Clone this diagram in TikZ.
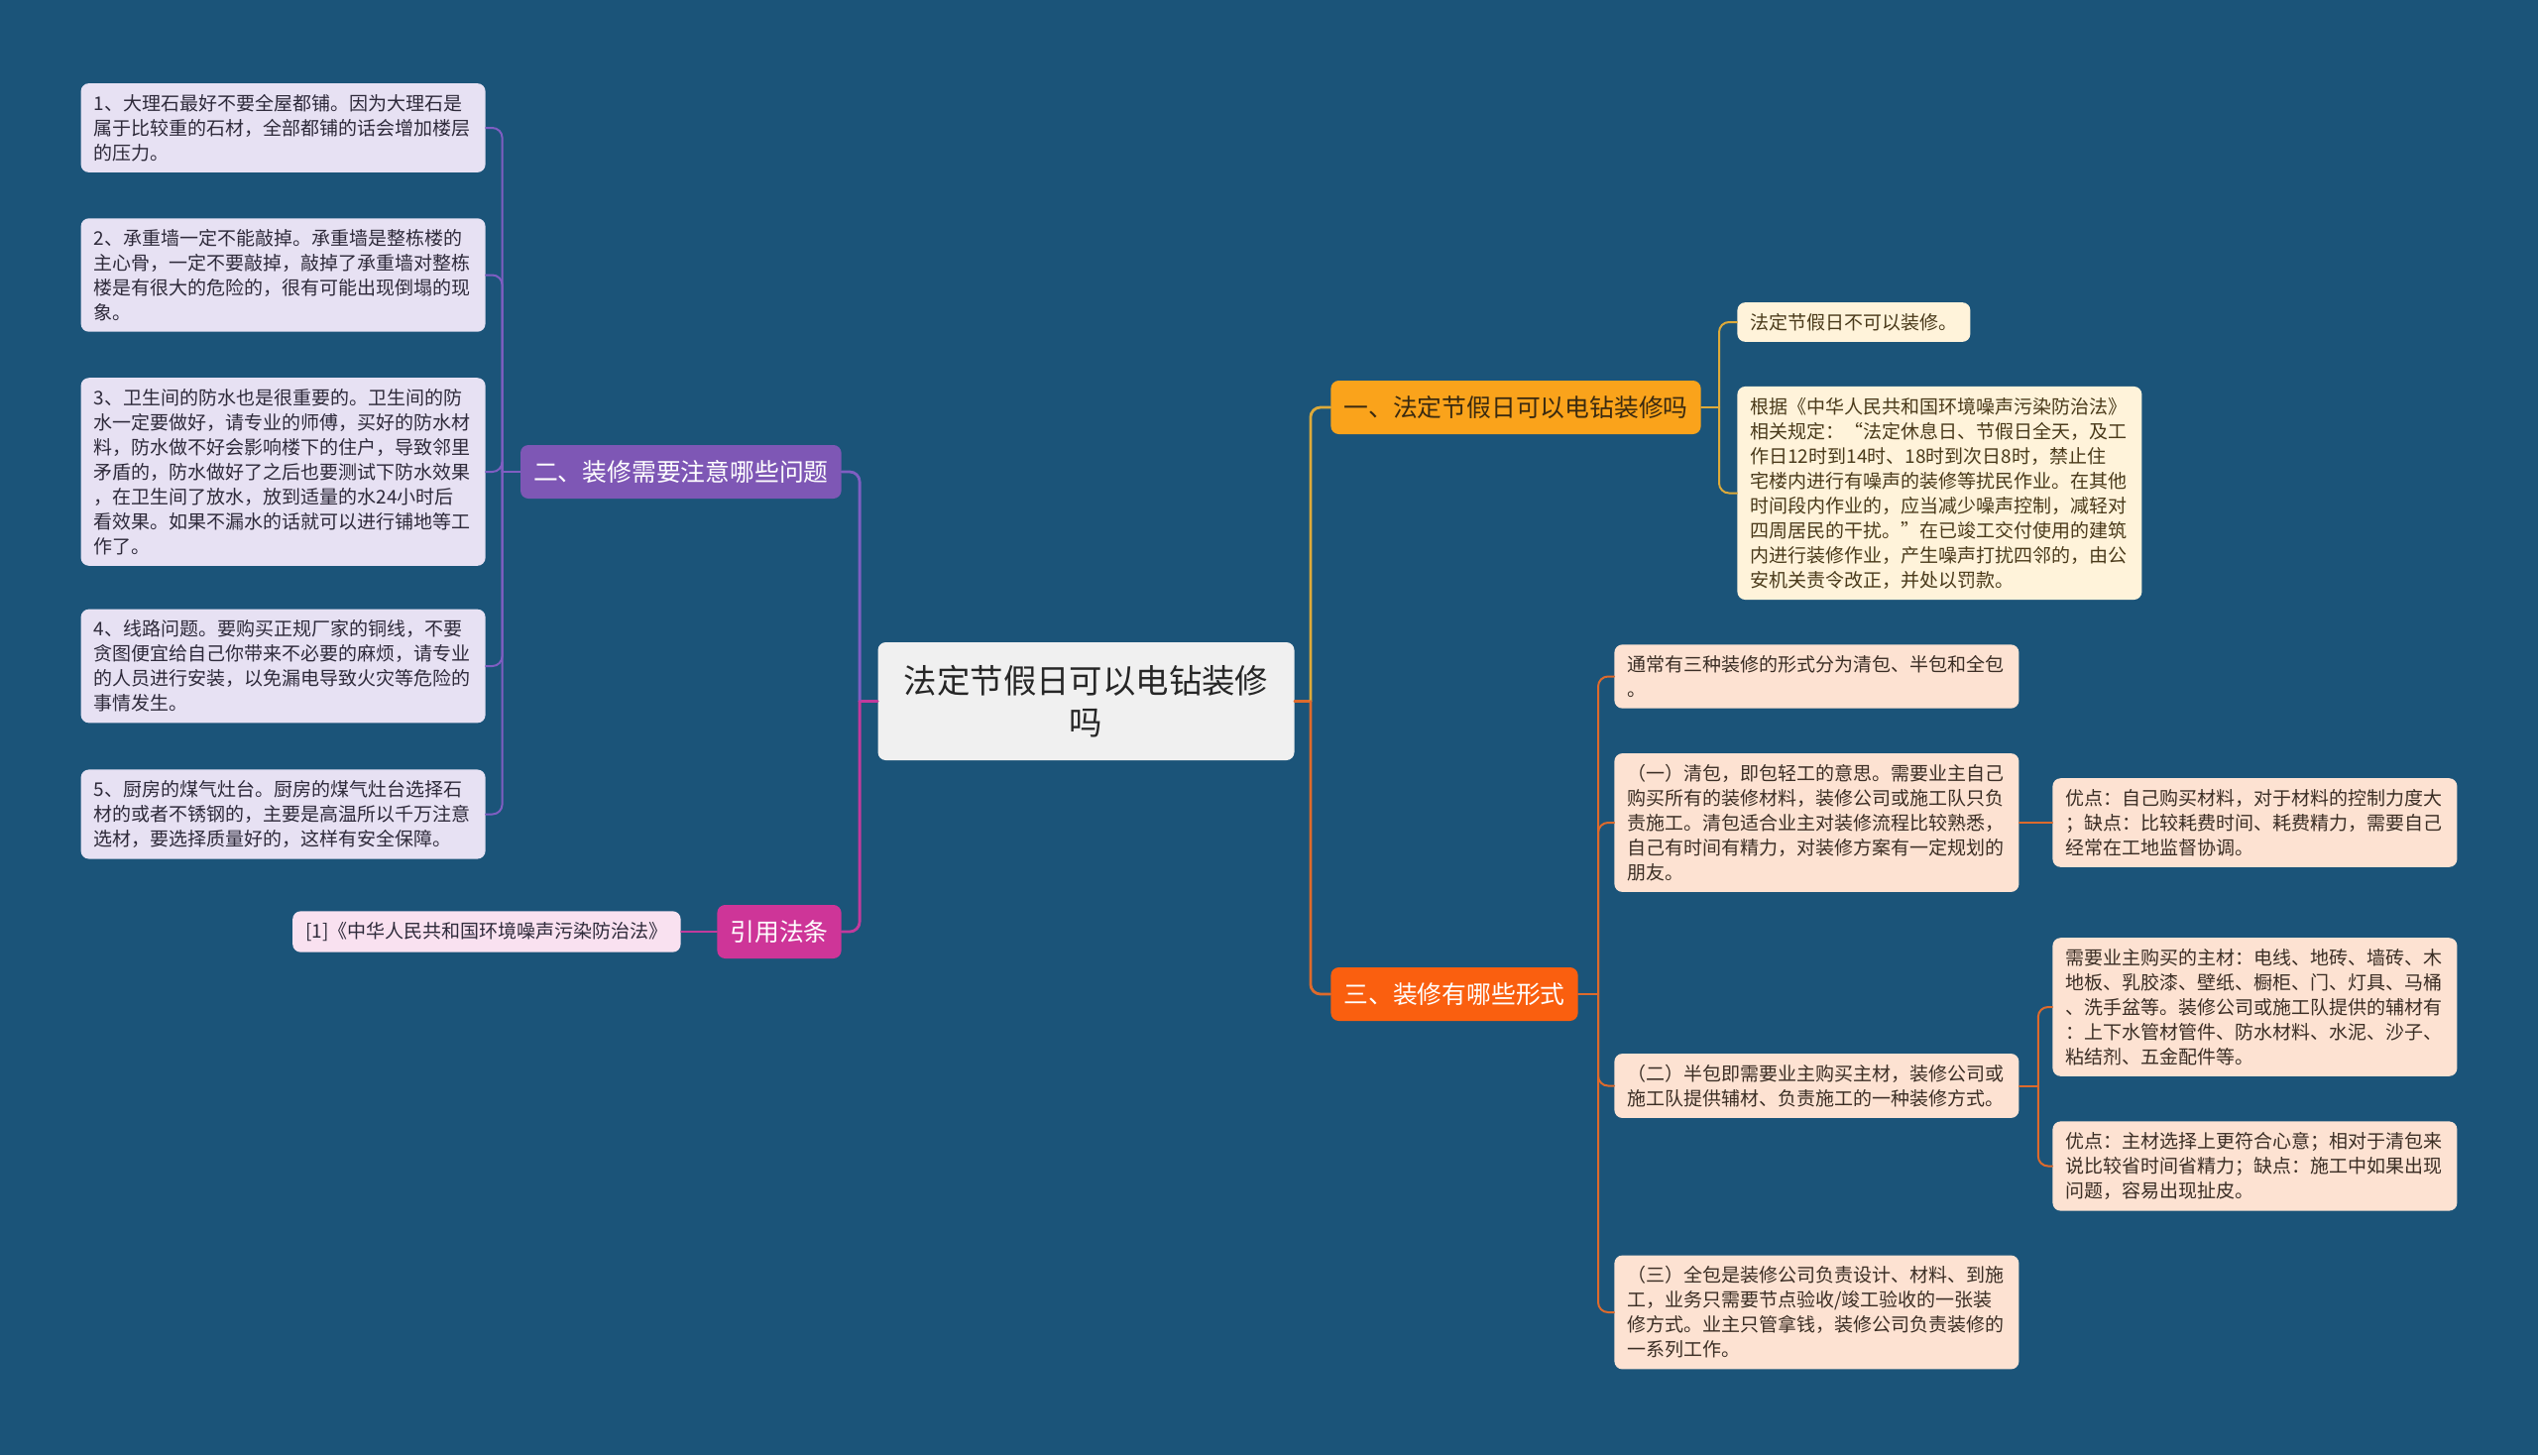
\documentclass[tikz,border=0pt]{standalone}
\usepackage{fontspec}
\newfontfamily\cjk{Noto Sans CJK SC}

\definecolor{bgblue}{HTML}{1B5479}
\definecolor{rootfill}{HTML}{F0F0F0}
\definecolor{amberfill}{HTML}{FAA31B}
\definecolor{amberline}{HTML}{DDAA3A}
\definecolor{amberink}{HTML}{3A2A10}
\definecolor{creamfill}{HTML}{FFF3DA}
\definecolor{creamink}{HTML}{4A3A1A}
\definecolor{flamefill}{HTML}{FA5F0F}
\definecolor{flameline}{HTML}{DD6A2C}
\definecolor{peachfill}{HTML}{FDE2D2}
\definecolor{peachink}{HTML}{3B2E25}
\definecolor{violetfill}{HTML}{7E57B5}
\definecolor{violetline}{HTML}{7F5EC2}
\definecolor{lilacfill}{HTML}{E7E1F3}
\definecolor{lilacink}{HTML}{2E2A3A}
\definecolor{magentafill}{HTML}{CE3598}
\definecolor{magentaline}{HTML}{C23A9C}
\definecolor{pinkfill}{HTML}{F9E1F0}

\begin{document}
\begin{tikzpicture}[
  x=0.5pt,y=-0.5pt,font=\cjk,
  line cap=round,line join=round,
  rootbox/.style={fill=rootfill,text=black!85,rounded corners=4pt,align=center,
    minimum width=210pt,minimum height=59.5pt,inner sep=0pt,
    font=\cjk\fontsize{16.7}{21}\selectfont},
  topicbox/.style={rounded corners=4pt,minimum height=27pt,inner xsep=6.5pt,
    inner ysep=0pt,text=white,font=\cjk\fontsize{12.4}{15}\selectfont},
  tagbox/.style={rounded corners=4pt,inner xsep=6.5pt,inner ysep=5.5pt,
    font=\cjk\fontsize{9.5}{12.5}\selectfont},
  leafbox/.style={tagbox,text width=191pt,align=left},
  rootlink/.style={line width=1.4pt},
  leaflink/.style={line width=1pt,rounded corners=5pt}
]
  \fill[bgblue] (0,0) rectangle (2560,1468);
  \useasboundingbox (0,0) rectangle (2560,1468);

  % Root and the four topics.
  \node[rootbox] (root) at (1095.5,707.5) {法定节假日可以电钻装修\\吗};
  \node[topicbox,fill=amberfill,text=amberink,anchor=west] (lawq)
    at (1342,411) {一、法定节假日可以电钻装修吗};
  \node[topicbox,fill=violetfill,anchor=east] (notes)
    at (849,476) {二、装修需要注意哪些问题};
  \node[topicbox,fill=flamefill,anchor=west] (forms)
    at (1342,1003) {三、装修有哪些形式};
  \node[topicbox,fill=magentafill,anchor=east] (cites)
    at (849,940) {引用法条};

  % Topic two: what to watch out for.
  \begin{scope}[every node/.append style={leafbox,fill=lilacfill,text=lilacink,anchor=east}]
    \node (notea) at (490,129) {1、大理石最好不要全屋都铺。因为大理石是\\属于比较重的石材，全部都铺的话会增加楼层\\的压力。};
    \node (noteb) at (490,277.5) {2、承重墙一定不能敲掉。承重墙是整栋楼的\\主心骨，一定不要敲掉，敲掉了承重墙对整栋\\楼是有很大的危险的，很有可能出现倒塌的现\\象。};
    \node (notec) at (490,476) {3、卫生间的防水也是很重要的。卫生间的防\\水一定要做好，请专业的师傅，买好的防水材\\料，防水做不好会影响楼下的住户，导致邻里\\矛盾的，防水做好了之后也要测试下防水效果\\，在卫生间了放水，放到适量的水24小时后\\看效果。如果不漏水的话就可以进行铺地等工\\作了。};
    \node (noted) at (490,672) {4、线路问题。要购买正规厂家的铜线，不要\\贪图便宜给自己你带来不必要的麻烦，请专业\\的人员进行安装，以免漏电导致火灾等危险的\\事情发生。};
    \node (notee) at (490,821.5) {5、厨房的煤气灶台。厨房的煤气灶台选择石\\材的或者不锈钢的，主要是高温所以千万注意\\选材，要选择质量好的，这样有安全保障。};
  \end{scope}

  % Cited law.
  \node[tagbox,fill=pinkfill,text=lilacink,anchor=east] (lawref)
    at (687,940) {[1]《中华人民共和国环境噪声污染防治法》};

  % Topic one: holidays.
  \node[tagbox,fill=creamfill,text=creamink,anchor=west] (lawno)
    at (1752,325) {法定节假日不可以装修。};
  \node[leafbox,fill=creamfill,text=creamink,anchor=west] (lawtext)
    at (1752,497.5) {根据《中华人民共和国环境噪声污染防治法》\\相关规定：“法定休息日、节假日全天，及工\\作日12时到14时、18时到次日8时，禁止住\\宅楼内进行有噪声的装修等扰民作业。在其他\\时间段内作业的，应当减少噪声控制，减轻对\\四周居民的干扰。”在已竣工交付使用的建筑\\内进行装修作业，产生噪声打扰四邻的，由公\\安机关责令改正，并处以罚款。};

  % Topic three: forms of decoration.
  \begin{scope}[every node/.append style={leafbox,fill=peachfill,text=peachink,anchor=west}]
    \node (formall) at (1628,682.5) {通常有三种装修的形式分为清包、半包和全包\\。};
    \node (formqb) at (1628,830) {（一）清包，即包轻工的意思。需要业主自己\\购买所有的装修材料，装修公司或施工队只负\\责施工。清包适合业主对装修流程比较熟悉，\\自己有时间有精力，对装修方案有一定规划的\\朋友。};
    \node (formbb) at (1628,1095.5) {（二）半包即需要业主购买主材，装修公司或\\施工队提供辅材、负责施工的一种装修方式。};
    \node (formqq) at (1628,1324) {（三）全包是装修公司负责设计、材料、到施\\工，业务只需要节点验收/竣工验收的一张装\\修方式。业主只管拿钱，装修公司负责装修的\\一系列工作。};
    \node (qbpro) at (2070,830) {优点：自己购买材料，对于材料的控制力度大\\；缺点：比较耗费时间、耗费精力，需要自己\\经常在工地监督协调。};
    \node (bbmat) at (2070,1016) {需要业主购买的主材：电线、地砖、墙砖、木\\地板、乳胶漆、壁纸、橱柜、门、灯具、马桶\\、洗手盆等。装修公司或施工队提供的辅材有\\：上下水管材管件、防水材料、水泥、沙子、\\粘结剂、五金配件等。};
    \node (bbpro) at (2070,1176.5) {优点：主材选择上更符合心意；相对于清包来\\说比较省时间省精力；缺点：施工中如果出现\\问题，容易出现扯皮。};
  \end{scope}

  % Hubs where the branches split.
  \coordinate (lhub) at ([xshift=-9pt]root.west);
  \coordinate (rhub) at ([xshift=8pt]root.east);
  \coordinate (lawhub) at ([xshift=9pt]lawq.east);
  \coordinate (notehub) at ([xshift=-9pt]notes.west);
  \coordinate (formhub) at ([xshift=10pt]forms.east);
  \coordinate (halfhub) at ([xshift=9.5pt]formbb.east);

  % Root links.
  \draw[rootlink,magentaline] (root.west) -- (lhub);
  \draw[rootlink,violetline,rounded corners=5pt] (lhub) |- (notes.east);
  \draw[rootlink,magentaline,rounded corners=5pt] (lhub) |- (cites.east);
  \draw[rootlink,flameline] (root.east) -- (rhub);
  \draw[rootlink,amberline,rounded corners=5pt] (rhub) |- (lawq.west);
  \draw[rootlink,flameline,rounded corners=5pt] (rhub) |- (forms.west);

  % Leaf links.
  \draw[leaflink,violetline] (notes.west) -- (notehub);
  \foreach \leafname in {notea,noteb,notec,noted,notee}
    \draw[leaflink,violetline] (notehub) |- (\leafname.east);
  \draw[leaflink,magentaline] (cites.west) -- (lawref.east);
  \draw[leaflink,amberline] (lawq.east) -- (lawhub);
  \foreach \leafname in {lawno,lawtext}
    \draw[leaflink,amberline] (lawhub) |- (\leafname.west);
  \draw[leaflink,flameline] (forms.east) -- (formhub);
  \foreach \leafname in {formall,formqb,formbb,formqq}
    \draw[leaflink,flameline] (formhub) |- (\leafname.west);
  \draw[leaflink,flameline] (formqb.east) -- (qbpro.west);
  \draw[leaflink,flameline] (formbb.east) -- (halfhub);
  \foreach \leafname in {bbmat,bbpro}
    \draw[leaflink,flameline] (halfhub) |- (\leafname.west);
\end{tikzpicture}
\end{document}
